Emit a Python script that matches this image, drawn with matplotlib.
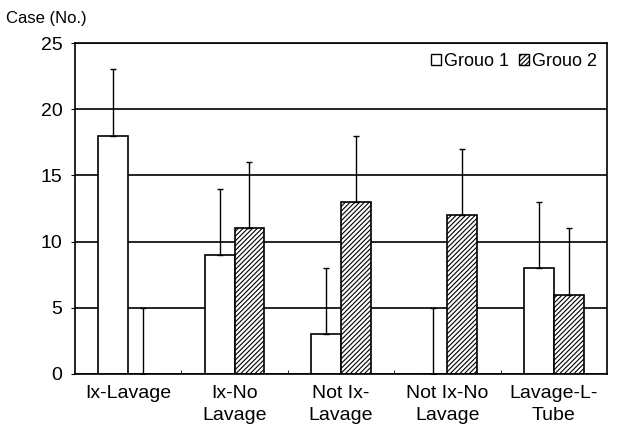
import numpy as np
import matplotlib
matplotlib.use("Agg")
from matplotlib import pyplot as plt
from matplotlib.patches import Patch

plt.rcParams['font.family'] = ['Liberation Sans', 'DejaVu Sans']
plt.rcParams['hatch.linewidth'] = 0.8

categories = ["Ix-Lavage", "Ix-No\nLavage", "Not Ix-\nLavage", "Not Ix-No\nLavage", "Lavage-L-\nTube"]
group1 = [18, 9, 3, 0, 8]
group2 = [0, 11, 13, 12, 6]
err1 = [5, 5, 5, 5, 5]
err2 = [5, 5, 5, 5, 5]

fig = plt.figure(figsize=(6.19, 4.38), dpi=100)
ax = fig.add_axes([75 / 619, 1 - 374 / 438, 532 / 619, 331 / 438])

x = np.arange(len(categories))
w = 0.28
ax.set_axisbelow(True)
ax.yaxis.grid(True, color="black", linewidth=1.2)
ax.bar(x - w / 2, group1, w, color="white", edgecolor="black", linewidth=1.2,
       yerr=[np.zeros(5), err1], error_kw=dict(ecolor="black", elinewidth=1, capsize=2.5, capthick=1))
ax.bar(x + w / 2, group2, w, color="white", edgecolor="black", linewidth=1.2, hatch="///////",
       yerr=[np.zeros(5), err2], error_kw=dict(ecolor="black", elinewidth=1, capsize=2.5, capthick=1))

ax.set_xlim(-0.5, len(categories) - 0.5)
ax.set_ylim(0, 25)
ax.set_yticks([0, 5, 10, 15, 20, 25])
ax.set_xticks(x)
ax.set_xticklabels(categories, fontsize=14, linespacing=1.4)
ax.tick_params(axis="x", length=0, pad=8)
ax.set_xticks(np.arange(0.5, len(categories) - 0.5, 1), minor=True)
ax.tick_params(axis="x", which="minor", direction="in", length=3)
ax.tick_params(axis="y", labelsize=14, direction="out", length=3, pad=6)
for s in ax.spines.values():
    s.set_linewidth(1.2)

handles = [Patch(facecolor="white", edgecolor="black", label="Grouo 1"),
           Patch(facecolor="white", edgecolor="black", hatch="///////", label="Grouo 2")]
ax.legend(handles=handles, loc="upper right", ncol=2, frameon=False, fontsize=13,
          handlelength=0.55, handleheight=0.55, handletextpad=0.15, columnspacing=0.6,
          borderaxespad=0.15)

fig.text(6 / 619, 1 - 18 / 438, "Case (No.)", fontsize=12, va="center", ha="left")

fig.savefig("out.png", dpi=100)
